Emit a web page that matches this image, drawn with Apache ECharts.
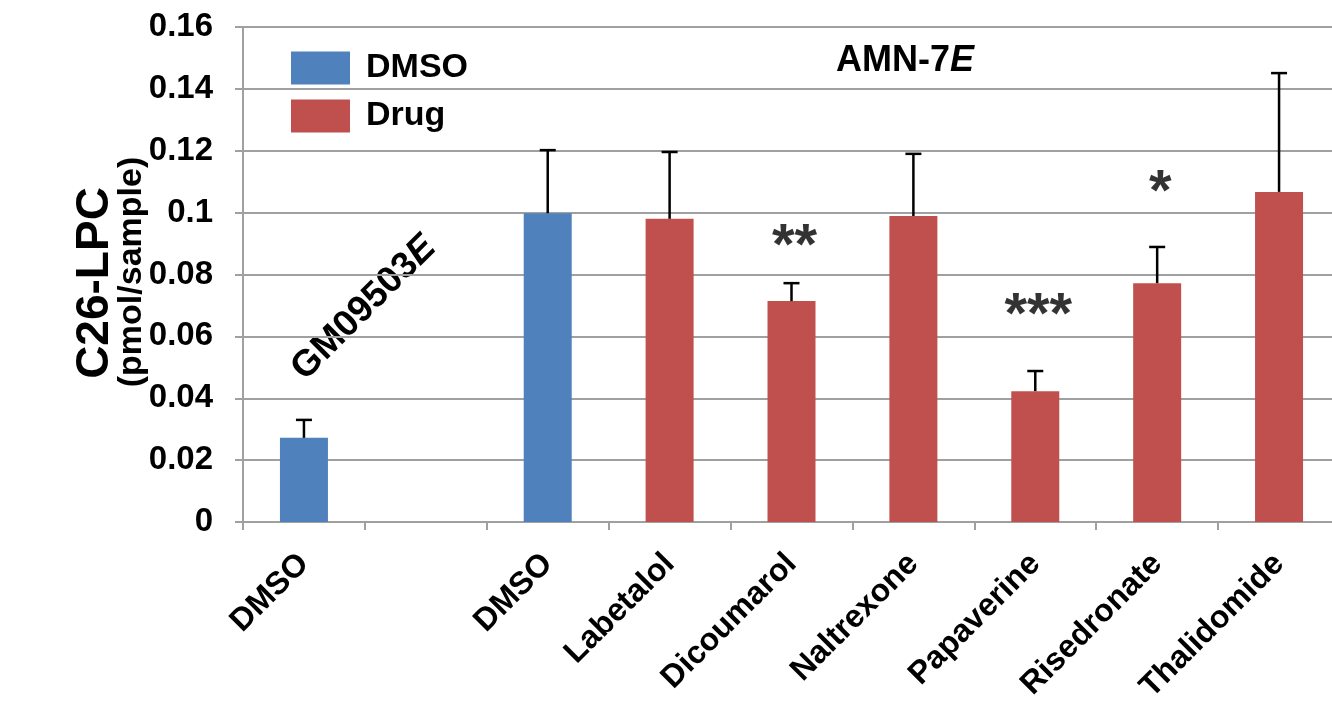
<!DOCTYPE html>
<html>
<head>
<meta charset="utf-8">
<script src="https://cdn.jsdelivr.net/npm/echarts@6/dist/echarts.min.js"></script>
<style>html,body{margin:0;padding:0;background:#fff;overflow:hidden;width:1332px;height:706px}#c{width:1340px;height:706px}</style>
</head>
<body>
<div id="c"></div>
<script>
const categories = ['DMSO', '', 'DMSO', 'Labetalol', 'Dicoumarol', 'Naltrexone', 'Papaverine', 'Risedronate', 'Thalidomide'];
const dmsoValues = [0.0272, null, 0.0998, null, null, null, null, null, null];
const drugValues = [null, null, null, 0.098, 0.0714, 0.0989, 0.0423, 0.0772, 0.1067];
const errorValues = [0.0058, null, 0.0204, 0.0216, 0.0058, 0.0201, 0.0065, 0.0117, 0.0384];
const sigCats = ['Dicoumarol', 'Papaverine', 'Risedronate'];
const sigMarks = ['**', '***', '*'];
const sigY = [0.0885, 0.0662, 0.1060];
const yTicks = [0, 0.02, 0.04, 0.06, 0.08, 0.1, 0.12, 0.14, 0.16];

const FONT = '"Liberation Sans", Arial, sans-serif';
const BLUE = '#4F81BD', RED = '#C0504D', GRID = '#A0A0A0';

const values = categories.map((c, i) => dmsoValues[i] != null ? dmsoValues[i] : drugValues[i]);
const errData = [];
values.forEach((v, i) => { if (v != null && errorValues[i] != null) errData.push([i, v, errorValues[i]]); });

const chart = echarts.init(document.getElementById('c'), null, {renderer: 'canvas'});
chart.setOption({
  animation: false,
  backgroundColor: '#fff',
  grid: {left: 243, right: 0, top: 27, bottom: 184, containLabel: false},
  legend: {
    orient: 'vertical', left: 286, top: 46, itemWidth: 59, itemHeight: 33, itemGap: 14,
    icon: 'rect',
    data: ['DMSO', 'Drug'],
    textStyle: {fontFamily: FONT, fontWeight: 'bold', fontSize: 34, color: '#000', padding: [0, 0, 0, 11]}
  },
  xAxis: {
    type: 'category', data: categories, boundaryGap: true,
    axisLine: {lineStyle: {color: GRID, width: 2}},
    axisTick: {show: true, length: 8, lineStyle: {color: GRID, width: 2}},
    axisLabel: {rotate: 45, interval: 0, margin: 37, fontFamily: FONT, fontWeight: 'bold', fontSize: 32, color: '#000'}
  },
  yAxis: {
    type: 'value', min: 0, max: 0.16, interval: 0.02,
    axisLine: {show: true, lineStyle: {color: GRID, width: 2}},
    axisTick: {show: true, length: 8, lineStyle: {color: GRID, width: 2}},
    splitLine: {show: true, lineStyle: {color: GRID, width: 2}},
    axisLabel: {margin: 30, fontFamily: FONT, fontWeight: 'bold', fontSize: 33, color: '#000',
      formatter: v => String(+(+v).toFixed(2))}
  },
  series: [
    {name: 'DMSO', type: 'bar', data: dmsoValues, barWidth: 48, barGap: '-100%', itemStyle: {color: BLUE}},
    {name: 'Drug', type: 'bar', data: drugValues, barWidth: 48, barGap: '-100%', itemStyle: {color: RED}},
    {
      type: 'custom', name: 'err', data: errData, z: 10,
      renderItem: function (params, api) {
        const i = api.value(0), v = api.value(1), e = api.value(2);
        const p0 = api.coord([i, v]);
        const p1 = api.coord([i, v + e]);
        const half = 8;
        const st = {stroke: '#000', lineWidth: 2.5};
        return {type: 'group', children: [
          {type: 'line', shape: {x1: p0[0], y1: p0[1], x2: p1[0], y2: p1[1]}, style: st},
          {type: 'line', shape: {x1: p1[0] - half, y1: p1[1], x2: p1[0] + half, y2: p1[1]}, style: st}
        ]};
      }
    },
    {
      type: 'scatter', name: 'sig', symbolSize: 0, z: 11,
      data: sigCats.map((c, k) => ({value: [c, sigY[k]], label: {formatter: sigMarks[k]}})),
      label: {show: true, position: 'inside', offset: [3, 0], fontFamily: FONT, fontWeight: 'bold', fontSize: 58, color: '#000'}
    }
  ],
  graphic: [
    {type: 'text', x: 95, y: 283, rotation: Math.PI / 2,
      style: {text: 'C26-LPC', font: 'bold 46px ' + FONT, fill: '#000', align: 'center', verticalAlign: 'middle'}},
    {type: 'text', x: 132, y: 272, rotation: Math.PI / 2,
      style: {text: '(pmol/sample)', font: 'bold 34px ' + FONT, fill: '#000', align: 'center', verticalAlign: 'middle'}},
    {type: 'text', x: 905, y: 61,
      style: {text: '{b|AMN-7}{i|E}', align: 'center', verticalAlign: 'middle',
        rich: {b: {fontFamily: FONT, fontWeight: 'bold', fontSize: 36, fill: '#000', color: '#000'},
               i: {fontFamily: FONT, fontWeight: 'bold', fontStyle: 'italic', fontSize: 36, fill: '#000', color: '#000'}}}},
    {type: 'text', x: 364, y: 308, rotation: Math.PI / 4,
      style: {text: '{b|GM09503}{i|E}', align: 'center', verticalAlign: 'middle',
        rich: {b: {fontFamily: FONT, fontWeight: 'bold', fontSize: 37, fill: '#000', color: '#000'},
               i: {fontFamily: FONT, fontWeight: 'bold', fontStyle: 'italic', fontSize: 37, fill: '#000', color: '#000'}}}}
  ]
});
</script>
</body>
</html>
